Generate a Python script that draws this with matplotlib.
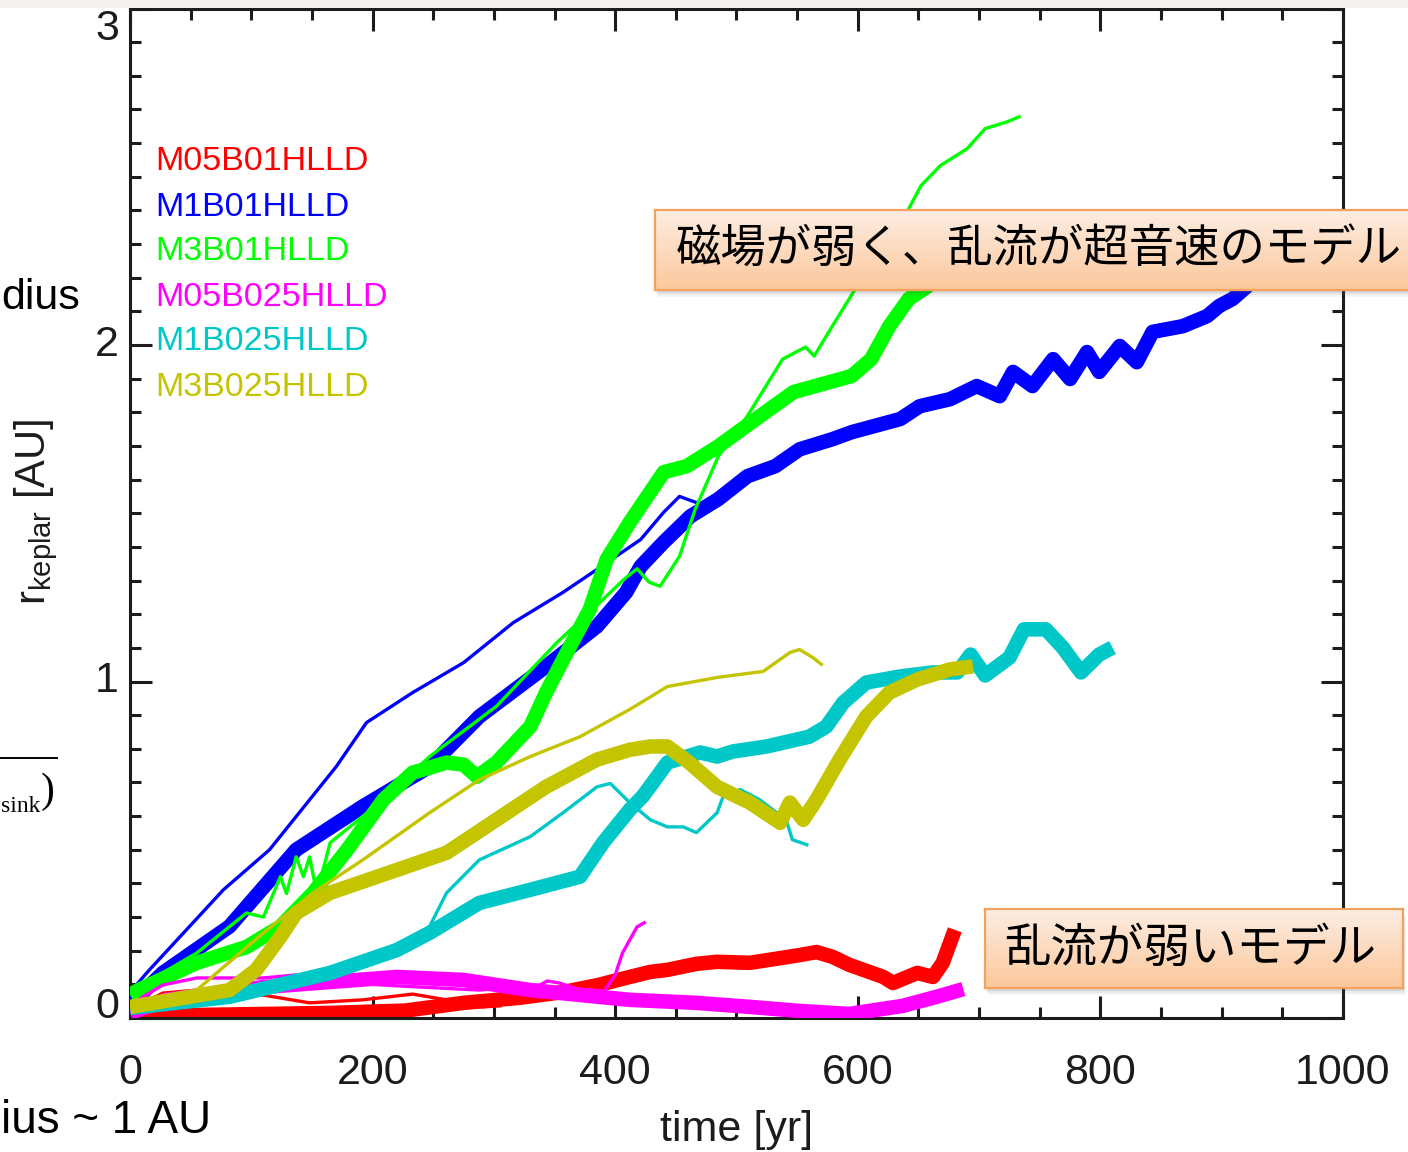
import numpy as np
import matplotlib.pyplot as plt
from matplotlib.ticker import MultipleLocator
from matplotlib.patches import Rectangle
from matplotlib.lines import Line2D
from matplotlib.colors import LinearSegmentedColormap

plt.rcParams['font.family'] = ['Liberation Sans', 'DejaVu Sans']
plt.rcParams['mathtext.fontset'] = 'custom'
plt.rcParams['mathtext.rm'] = 'Liberation Sans'
plt.rcParams['mathtext.it'] = 'Liberation Sans:italic'

# run names and line colours (IDL colour table)
model_names = ['M05B01HLLD', 'M1B01HLLD', 'M3B01HLLD',
               'M05B025HLLD', 'M1B025HLLD', 'M3B025HLLD']
model_colors = ['#ff0000', '#0000ff', '#00ff00', '#ff00ff', '#00c8c8', '#c4c400']

x_ticks = [0, 200, 400, 600, 800, 1000]
y_ticks = [0, 1, 2, 3]

# time [yr] / r_keplar [AU], thin and thick curve of every run
m05b01_thin_t = [0, 27, 55, 110, 148, 192, 233, 261, 275, 291, 305]
m05b01_thin_r = [0.024, 0.074, 0.083, 0.068, 0.045, 0.054, 0.071, 0.054, 0.036, 0.033, 0.036]
m05b01_thick_t = [0, 58, 165, 227, 275, 321, 357, 386, 412, 429, 443, 467, 484, 511, 538,
                  552, 566, 579, 593, 621, 629, 649, 662, 670, 676, 680]
m05b01_thick_r = [0.006, 0.009, 0.015, 0.022, 0.045, 0.060, 0.077, 0.098, 0.122, 0.137, 0.143,
                  0.161, 0.167, 0.164, 0.179, 0.187, 0.196, 0.182, 0.158, 0.122, 0.104, 0.134,
                  0.122, 0.164, 0.223, 0.262]

m1b01_thin_t = [0, 16, 77, 115, 170, 195, 233, 275, 316, 357, 385, 421, 440, 453, 466]
m1b01_thin_r = [0.077, 0.143, 0.381, 0.500, 0.747, 0.878, 0.967, 1.056, 1.175, 1.265, 1.333,
                1.422, 1.503, 1.550, 1.533]
m1b01_thick_t = [0, 27, 82, 137, 192, 247, 288, 343, 385, 409, 421, 440, 462, 485, 509, 532,
                 552, 579, 595, 635, 651, 676, 698, 717, 728, 744, 761, 775, 789, 799, 816,
                 830, 843, 868, 888, 898, 909, 921, 930]
m1b01_thick_r = [0.039, 0.134, 0.272, 0.500, 0.629, 0.747, 0.896, 1.045, 1.164, 1.265, 1.342,
                 1.414, 1.491, 1.542, 1.610, 1.640, 1.690, 1.720, 1.741, 1.780, 1.818, 1.839,
                 1.878, 1.848, 1.920, 1.878, 1.958, 1.899, 1.979, 1.920, 1.997, 1.949, 2.039,
                 2.056, 2.086, 2.116, 2.137, 2.175, 2.205]

m3b01_thin_t = [0, 27, 55, 96, 110, 124, 129, 137, 143, 148, 154, 165, 209, 247, 302, 352,
                383, 407, 418, 428, 437, 453, 466, 485, 509, 538, 557, 564, 579, 598, 642,
                652, 668, 690, 705, 723, 733]
m3b01_thin_r = [0.077, 0.134, 0.193, 0.312, 0.300, 0.420, 0.370, 0.479, 0.420, 0.479, 0.370,
                0.521, 0.649, 0.777, 0.926, 1.116, 1.220, 1.303, 1.335, 1.295, 1.283, 1.372,
                1.512, 1.669, 1.789, 1.958, 1.994, 1.967, 2.056, 2.167, 2.405, 2.473, 2.533,
                2.583, 2.643, 2.663, 2.678]
m3b01_thick_t = [0, 7, 55, 96, 124, 151, 179, 209, 233, 261, 275, 286, 302, 330, 343, 357,
                 379, 393, 412, 440, 459, 485, 516, 547, 595, 611, 626, 642, 658, 663]
m3b01_thick_r = [0.068, 0.083, 0.164, 0.211, 0.272, 0.372, 0.500, 0.649, 0.729, 0.759, 0.753,
                 0.717, 0.759, 0.866, 0.967, 1.065, 1.214, 1.363, 1.473, 1.622, 1.640, 1.699,
                 1.780, 1.860, 1.908, 1.958, 2.056, 2.137, 2.175, 2.241]

m05b025_thin_t = [0, 27, 55, 110, 137, 151, 223, 288, 338, 344, 354, 369, 391, 400, 406,
                  418, 424]
m05b025_thin_r = [0.039, 0.098, 0.119, 0.119, 0.128, 0.110, 0.095, 0.083, 0.098, 0.110,
                  0.104, 0.086, 0.080, 0.128, 0.193, 0.271, 0.283]
m05b025_thick_t = [0, 30, 110, 220, 275, 330, 412, 467, 511, 552, 593, 637, 667, 687]
m05b025_thick_r = [0.015, 0.054, 0.092, 0.122, 0.113, 0.083, 0.054, 0.045, 0.033, 0.021,
                   0.012, 0.036, 0.065, 0.086]

m1b025_thin_t = [0, 82, 165, 220, 247, 261, 288, 330, 357, 385, 396, 412, 429, 443, 456, 467,
                 484, 489, 503, 519, 541, 546, 558]
m1b025_thin_r = [0.030, 0.063, 0.134, 0.202, 0.272, 0.372, 0.470, 0.539, 0.610, 0.687, 0.697,
                 0.640, 0.589, 0.568, 0.568, 0.551, 0.610, 0.658, 0.679, 0.649, 0.589, 0.530,
                 0.515]
m1b025_thick_t = [0, 82, 165, 220, 247, 288, 330, 371, 390, 412, 423, 437, 443, 470, 484, 497,
                  525, 560, 574, 588, 607, 635, 662, 682, 693, 705, 725, 737, 755, 769, 784,
                  799, 810]
m1b025_thick_r = [0.030, 0.063, 0.134, 0.202, 0.253, 0.342, 0.381, 0.420, 0.521, 0.619, 0.660,
                  0.729, 0.759, 0.789, 0.777, 0.792, 0.807, 0.836, 0.866, 0.937, 0.997, 1.015,
                  1.027, 1.027, 1.080, 1.018, 1.071, 1.155, 1.155, 1.101, 1.027, 1.080, 1.101]

m3b025_thin_t = [0, 55, 110, 151, 192, 247, 288, 330, 371, 412, 443, 484, 522, 544, 552, 563,
                 570]
m3b025_thin_r = [0.039, 0.083, 0.253, 0.372, 0.470, 0.610, 0.708, 0.777, 0.836, 0.917, 0.985,
                 1.012, 1.030, 1.086, 1.095, 1.071, 1.051]
m3b025_thick_t = [0, 82, 104, 124, 137, 165, 220, 261, 302, 343, 385, 412, 429, 443, 461, 484,
                  511, 536, 544, 555, 566, 585, 607, 626, 649, 676, 695]
m3b025_thick_r = [0.033, 0.083, 0.143, 0.241, 0.312, 0.372, 0.440, 0.491, 0.589, 0.687, 0.768,
                  0.797, 0.807, 0.807, 0.759, 0.687, 0.640, 0.580, 0.640, 0.589, 0.649, 0.768,
                  0.896, 0.967, 1.006, 1.036, 1.045]

thin_runs = [(m05b01_thin_t, m05b01_thin_r), (m1b01_thin_t, m1b01_thin_r),
             (m3b01_thin_t, m3b01_thin_r), (m05b025_thin_t, m05b025_thin_r),
             (m1b025_thin_t, m1b025_thin_r), (m3b025_thin_t, m3b025_thin_r)]
thick_runs = [(m05b01_thick_t, m05b01_thick_r), (m1b01_thick_t, m1b01_thick_r),
              (m3b01_thick_t, m3b01_thick_r), (m05b025_thick_t, m05b025_thick_r),
              (m1b025_thick_t, m1b025_thick_r), (m3b025_thick_t, m3b025_thick_r)]

note_upper = '磁場が弱く、乱流が超音速のモデル'
note_lower = '乱流が弱いモデル'

W, H = 1408, 1152
fig = plt.figure(figsize=(W / 100, H / 100), dpi=100)
fig.patch.set_facecolor('white')

# strip of the slide above the plot
fig.patches.append(Rectangle((0, 1 - 8 / H), 1, 8 / H, transform=fig.transFigure,
                             color='#f3f2f0', lw=0, zorder=0))

ax = fig.add_axes([130 / W, 1 - 1018 / H, (1343 - 130) / W, (1018 - 8.5) / H])
ink = '#1c1c1c'

for i, c in enumerate(model_colors):
    t, r = thin_runs[i]
    ax.plot(t, r, color=c, lw=2.4, solid_joinstyle='round', zorder=2 + i)
    t, r = thick_runs[i]
    ax.plot(t, r, color=c, lw=10.5, solid_joinstyle='round', solid_capstyle='butt', zorder=2 + i)

ax.set_xlim(0, 1000)
ax.set_ylim(0, 3)
ax.set_xticks(x_ticks)
ax.set_xticklabels([str(v) for v in x_ticks])
ax.set_yticks(y_ticks)
ax.set_yticklabels([])
ax.xaxis.set_minor_locator(MultipleLocator(50))
ax.yaxis.set_minor_locator(MultipleLocator(0.1))
ax.tick_params(which='both', direction='in', top=True, right=True, colors=ink, width=2.2)
ax.tick_params(which='major', length=16, labelsize=31, pad=25)
ax.tick_params(which='minor', length=8)
for s in ax.spines.values():
    s.set_linewidth(2.2)
    s.set_color(ink)

# y tick labels, kept inside the frame at the ends like IDL does
ytr = ax.get_yaxis_transform()
for v in y_ticks:
    va = 'center'
    if v == y_ticks[0]:
        va = 'baseline'
    elif v == y_ticks[-1]:
        va = 'top'
    ax.text(-0.009, v, str(v), transform=ytr, ha='right', va=va, fontsize=31, color=ink)

fig.text(737 / W, 1 - 1130 / H, 'time [yr]', ha='center', va='center', fontsize=31, color=ink)
fig.text(36 / W, 1 - 512 / H, r'r$_{\rm keplar}$ [AU]', rotation=90, ha='center',
         va='center', fontsize=30, color=ink)

# run legend
for i, (name, c) in enumerate(zip(model_names, model_colors)):
    ax.text(0.0206, 1 - (162 - 8.5) / 1009.5 - i * 45 / 1009.5, name, transform=ax.transAxes,
            color=c, fontsize=24.5, ha='left', va='center')

# orange call-out boxes
peach = LinearSegmentedColormap.from_list('peach', ['#fdede2', '#fcc89c'])


def note_box(x0, y0, x1, y1, tx, text, size):
    l, b = x0 / W, 1 - y1 / H
    w, h = (x1 - x0) / W, (y1 - y0) / H
    for k, a in [(7, 0.06), (5, 0.08), (3, 0.12)]:
        fig.patches.append(Rectangle((l + 0.4 * k / W, b - k / H), w, h,
                                     transform=fig.transFigure, color='#555555',
                                     alpha=a, lw=0, zorder=8))
    bax = fig.add_axes([l, b, w, h], zorder=9)
    bax.imshow(np.linspace(0, 1, 64).reshape(-1, 1), cmap=peach, aspect='auto',
               extent=(0, 1, 0, 1))
    bax.set_xticks([])
    bax.set_yticks([])
    for s in bax.spines.values():
        s.set_color('#f2a25c')
        s.set_linewidth(1.6)
    bax.text((tx - x0) / (x1 - x0), 0.5, text, transform=bax.transAxes, ha='left',
             va='center', fontsize=size, color='black', family=['Noto Sans CJK JP'])


note_box(655, 210, 1425, 290, 676, note_upper, 32.7)
note_box(985, 909, 1403, 988, 1004, note_lower, 33.5)

# pieces of the neighbouring slide text along the left edge
fig.text(1 / W, 1 - 298 / H, 'dius', fontsize=31, ha='left', va='center', color='black')
fig.add_artist(Line2D([0, 57 / W], [1 - 758 / H, 1 - 758 / H], transform=fig.transFigure,
                      color='black', lw=1.4))
fig.text(1 / W, 1 - 806 / H, 'sink', family='Liberation Serif', fontsize=17, ha='left',
         va='center', color='black')
fig.text(48 / W, 1 - 792 / H, ')', family='Liberation Serif', fontsize=30, ha='center',
         va='center', color='black')
fig.text(1 / W, 1 - 1121 / H, 'ius ~ 1 AU', fontsize=33, ha='left', va='center',
         color='black')

fig.savefig('out.png', dpi=100)
